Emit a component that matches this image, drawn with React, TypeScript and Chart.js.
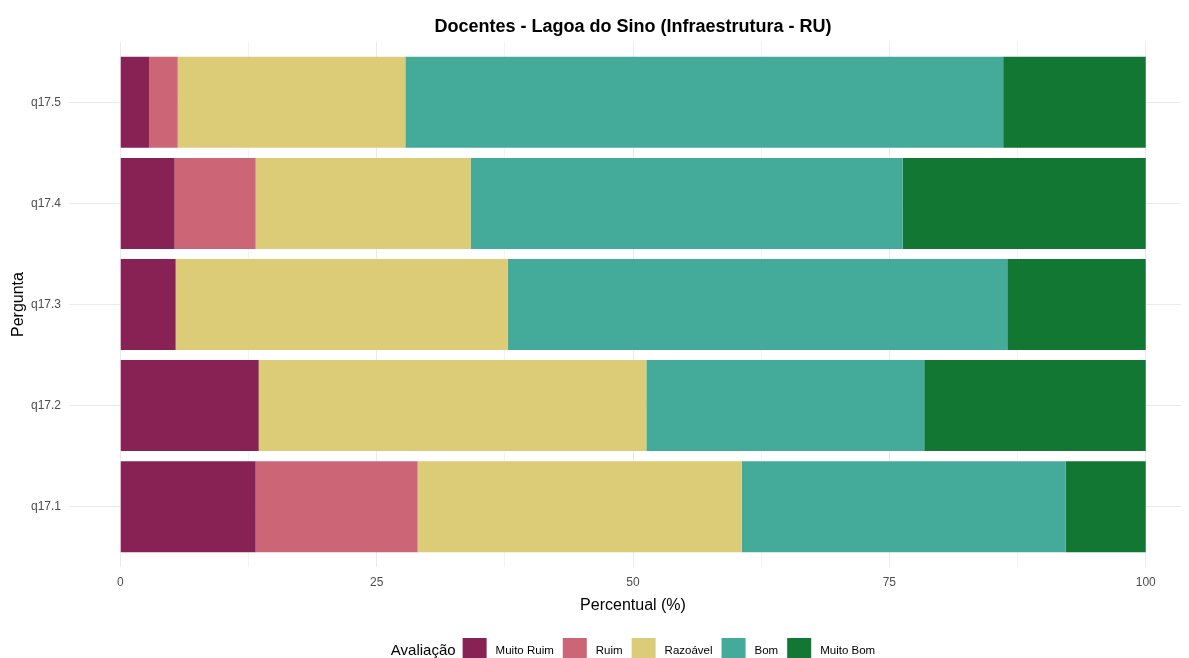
import React, { useEffect, useRef } from "react";
import { Chart, registerables } from "chart.js";

Chart.register(...registerables);

const categories = ["q17.1", "q17.2", "q17.3", "q17.4", "q17.5"];
const seriesNames = ["Muito Ruim", "Ruim", "Razoável", "Bom", "Muito Bom"];
const muitoRuim = [13.2, 13.5, 5.4, 5.3, 2.8];
const ruim = [15.8, 0, 0, 7.9, 2.8];
const razoavel = [31.6, 37.8, 32.4, 21.0, 22.2];
const bom = [31.6, 27.1, 48.7, 42.1, 58.3];
const muitoBom = [7.8, 21.6, 13.5, 23.7, 13.9];
const xTicks = [0, 12.5, 25, 37.5, 50, 62.5, 75, 87.5, 100];
const colors = ["#882255", "#CC6677", "#DDCC77", "#44AA99", "#117733"];

const FONT = "'Liberation Sans', Arial, sans-serif";

const legendPlugin = {
  id: "ggLegend",
  afterDraw(chart: any) {
    const ctx = chart.ctx;
    const area = chart.chartArea;
    const cx = (area.left + area.right) / 2;
    const cy = 643;
    ctx.save();
    ctx.textBaseline = "middle";
    ctx.font = `15px ${FONT}`;
    const titleW = ctx.measureText("Avaliação").width;
    ctx.font = `11.5px ${FONT}`;
    const widths = seriesNames.map((n) => ctx.measureText(n).width);
    const box = 24;
    const gapTitle = 7;
    const gapText = 9;
    const gapItem = 9;
    let total = titleW + gapTitle;
    widths.forEach((w, i) => {
      total += box + gapText + w + (i < widths.length - 1 ? gapItem : 0);
    });
    let x = cx - total / 2;
    ctx.fillStyle = "#000000";
    ctx.font = `15px ${FONT}`;
    ctx.textAlign = "left";
    ctx.fillText("Avaliação", x, cy);
    x += titleW + gapTitle;
    ctx.font = `11.5px ${FONT}`;
    seriesNames.forEach((n, i) => {
      ctx.fillStyle = colors[i];
      ctx.fillRect(x, cy - 13, box, 24);
      x += box + gapText;
      ctx.fillStyle = "#000000";
      ctx.fillText(n, x, cy);
      x += widths[i] + gapItem;
    });
    ctx.restore();
  },
};

export default function App() {
  const ref = useRef<HTMLCanvasElement>(null);

  useEffect(() => {
    if (!ref.current) return;
    const seriesValues = [muitoRuim, ruim, razoavel, bom, muitoBom];
    const datasets = seriesNames.map((name, s) => ({
      label: name,
      data: seriesValues[s].map((v, i) => ({ x: v, y: i + 1 })),
      backgroundColor: colors[s],
      borderWidth: 0,
      categoryPercentage: 0.9,
      barPercentage: 1.0,
    }));

    const chart = new Chart(ref.current, {
      type: "bar",
      data: { datasets },
      plugins: [legendPlugin],
      options: {
        indexAxis: "y",
        animation: false,
        responsive: true,
        maintainAspectRatio: false,
        layout: { padding: { top: 0, left: 0, right: 0, bottom: 39 } },
        plugins: {
          legend: { display: false },
          tooltip: { enabled: false },
          title: {
            display: true,
            text: "Docentes - Lagoa do Sino (Infraestrutura - RU)",
            fullSize: false,
            color: "#000000",
            font: { family: FONT, size: 18, weight: "bold" },
            padding: { top: 8, bottom: 4 },
          },
        },
        scales: {
          x: {
            type: "linear",
            stacked: true,
            min: -5,
            max: 105,
            offset: false,
            afterBuildTicks: (scale: any) => {
              scale.ticks = xTicks.map((v) => ({ value: v }));
            },
            border: { display: false },
            grid: {
              color: "#EBEBEB",
              offset: false,
              lineWidth: (c: any) =>
                c.tick && c.tick.value % 25 === 0 ? 1 : 0.6,
              drawTicks: false,
            },
            ticks: {
              padding: 8,
              color: "#4D4D4D",
              font: { family: FONT, size: 12 },
              autoSkip: false,
              maxRotation: 0,
              callback: (v: any) => (Number(v) % 25 === 0 ? String(v) : ""),
            },
            title: {
              display: true,
              text: "Percentual (%)",
              color: "#000000",
              font: { family: FONT, size: 16 },
              padding: { top: -2, bottom: 4 },
            },
          },
          y: {
            type: "linear",
            stacked: true,
            min: 0.4,
            max: 5.6,
            offset: false,
            afterBuildTicks: (scale: any) => {
              scale.ticks = categories.map((_, i) => ({ value: i + 1 }));
            },
            afterFit: (scale: any) => {
              scale.width = 61;
            },
            border: { display: false },
            grid: { color: "#EBEBEB", lineWidth: 1, drawTicks: false, offset: false },
            ticks: {
              padding: 8,
              color: "#4D4D4D",
              font: { family: FONT, size: 12 },
              autoSkip: false,
              callback: (v: any) => categories[Math.round(Number(v)) - 1] ?? "",
            },
            title: {
              display: true,
              text: "Pergunta",
              color: "#000000",
              font: { family: FONT, size: 16 },
              padding: { top: 1, bottom: 2 },
            },
          },
        },
      },
    });
    return () => chart.destroy();
  }, []);

  return (
    <div style={{ width: "100%", overflow: "hidden" }}>
      <div style={{ width: 1189, height: 650, position: "relative" }}>
        <canvas ref={ref} />
      </div>
    </div>
  );
}
